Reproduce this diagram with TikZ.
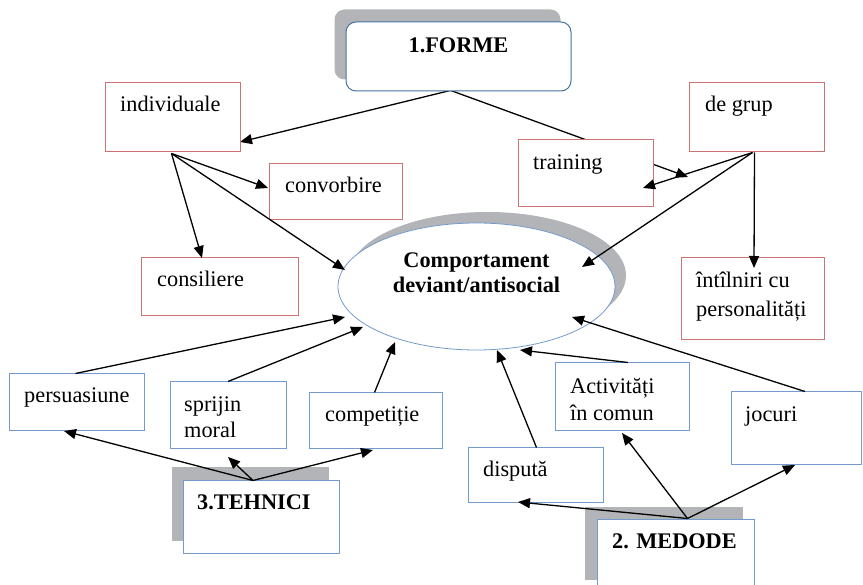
\documentclass[tikz,border=0pt]{standalone}
\usepackage{fontspec}
\setmainfont{Liberation Serif}
\usetikzlibrary{arrows.meta,calc,shapes.geometric}
\definecolor{redb}{RGB}{205,115,115}
\definecolor{blueb}{RGB}{115,155,205}
\definecolor{formeb}{RGB}{70,115,160}
\definecolor{shad}{RGB}{178,180,183}
\pgfdeclarelayer{bg}
\pgfsetlayers{bg,main}
\begin{document}
\begin{tikzpicture}[x=1pt,y=-1pt,
  sz/.style 2 args={minimum width=#1pt, minimum height=#2pt},
  rbox/.style={draw=redb, line width=1pt, fill=white, inner sep=0pt},
  bbox/.style={draw=blueb, line width=1pt, fill=white, inner sep=0pt},
  txt/.style={anchor=base west, inner sep=0pt, font=\fontsize{22.3}{27}\selectfont},
  btxt/.style={anchor=base west, inner sep=0pt, font=\fontsize{22.3}{27}\selectfont\bfseries},
  arr/.style={line width=1.3pt, -{Triangle[length=12pt,width=10pt]}}]
\useasboundingbox (0,0) rectangle (863,585);
\clip (0,0) rectangle (863,585);

% ---------- boxes ----------
\node[bbox, draw=formeb, rounded corners=10pt, sz={225}{69}] (forme) at (458.5,56.5) {};
\node[rbox, sz={135}{69}] (ind)   at (172.5,117.5) {};
\node[rbox, sz={133}{56}] (conv)  at (335.5,192) {};
\node[rbox, sz={157}{58}] (cons)  at (219.5,287) {};
\node[rbox, sz={135}{67}] (train) at (585.5,173.5) {};
\node[rbox, sz={135}{69}] (grup)  at (756.5,117.5) {};
\node[rbox, sz={143}{82}] (intal) at (752.5,299) {};
\node[draw=blueb, line width=0.8pt, fill=white, ellipse, inner sep=0pt, sz={277}{127}] (ell) at (476.5,286.5) {};
\node[bbox, sz={135}{57}] (pers)  at (76.5,402.5) {};
\node[bbox, sz={116}{67}] (spr)   at (228,415.5) {};
\node[bbox, sz={133}{56}] (comp)  at (375.5,421) {};
\node[bbox, sz={156}{72}] (teh)   at (261,517) {};
\node[bbox, sz={135}{54}] (disp)  at (535.5,475) {};
\node[bbox, sz={134}{68}] (act)   at (622,397) {};
\node[bbox, sz={130}{73}] (joc)   at (796,428.5) {};
\node[bbox, sz={157}{72}] (med)   at (675.5,555) {};

% ---------- shadows and hidden connectors ----------
\begin{pgfonlayer}{bg}
\fill[shad, rounded corners=10pt] ($(forme.south west)+(-11,-12)$) rectangle ($(forme.north east)+(-11,-12)$);
\fill[shad] ($(teh.south west)+(-11,-13)$) rectangle ($(teh.north east)+(-11,-13)$);
\fill[shad] ($(med.south west)+(-12,-12)$) rectangle ($(med.north east)+(-12,-12)$);
\fill[shad] ($(ell.center)+(11,-11)$) ellipse [x radius=138.5pt, y radius=63.5pt];
\coordinate (tFormeInd) at (240,142);
\coordinate (tFormeGrup) at (688,177);
\draw[arr] ($(forme.south)+(4,-4)$) -- (tFormeInd);
\draw[arr] ($(forme.south)+(-16,-4)$) -- (tFormeGrup);
\end{pgfonlayer}

% ---------- texts ----------
\node[btxt, anchor=base] (tforme) at (458.5,53) {1.FORME};
\node[txt] (tind)  at (120,112) {individuale};
\node[txt] (tconv) at (285,193) {convorbire};
\node[txt] (tcons) at (157,287) {consiliere};
\node[txt] (ttrain) at (533,170) {training};
\node[txt] (tgrup) at (705,112) {de grup};
\node[txt] (tint1) at (696,288) {întîlniri cu};
\node[txt] (tint2) at (696,317) {personalități};
\node[btxt, anchor=base] (tell1) at (476.5,268) {Comportament};
\node[btxt, anchor=base] (tell2) at (476.5,293) {deviant/antisocial};
\node[txt] (tpers) at (24,403) {persuasiune};
\node[txt] (tspr1) at (184,412) {sprijin};
\node[txt] (tspr2) at (184,438) {moral};
\node[txt] (tcomp) at (325,422) {competiție};
\node[btxt] (tteh) at (197,510) {3.TEHNICI};
\node[txt] (tdisp) at (483,477) {dispută};
\node[txt] (tact1) at (570,394) {Activități};
\node[txt] (tact2) at (570,421) {în comun};
\node[txt] (tjoc) at (745,422) {jocuri};
\node[btxt] (tmed) at (612,548) {2. MEDODE};

% ---------- arrow tips ----------
\coordinate (tIndEll) at (345,270);
\coordinate (tIndConv) at (268,188);
\coordinate (tIndCons) at (202,258);
\coordinate (tGrupTrain) at (643,188);
\coordinate (tGrupEll) at (582,267);
\coordinate (tGrupInt) at (754,268);
\coordinate (tPers) at (345,317);
\coordinate (tSpr) at (363,327);
\coordinate (tComp) at (395,342);
\coordinate (tTehPers) at (64,431);
\coordinate (tTehSpr) at (228,457);
\coordinate (tTehComp) at (373,450);
\coordinate (tMedDisp) at (518,502);
\coordinate (tMedAct) at (622,433);
\coordinate (tMedJoc) at (795,465);
\coordinate (tDisp) at (497,350);
\coordinate (tAct) at (520,350);
\coordinate (tJoc) at (572,317);

% ---------- connectors ----------
\draw[arr] ($(ind.south)+(-1,1)$) -- (tIndConv);
\draw[arr] ($(ind.south)+(-1,1)$) -- (tIndCons);
\draw[arr] ($(ind.south)+(-1,1)$) -- (tIndEll);
\draw[arr] ($(grup.south)+(-4,0)$) -- (tGrupTrain);
\draw[arr] ($(grup.south)+(-4,0)$) -- (tGrupEll);
\draw[arr] ($(grup.south)+(-2,0)$) -- (tGrupInt);
\draw[arr] ($(pers.north)+(-1,0)$) -- (tPers);
\draw[arr] (spr.north) -- (tSpr);
\draw[arr] ($(comp.north)+(-1,0)$) -- (tComp);
\draw[arr] ($(teh.north)+(-8,0)$) -- (tTehPers);
\draw[arr] ($(teh.north)+(-8,0)$) -- (tTehSpr);
\draw[arr] ($(teh.north)+(-8,0)$) -- (tTehComp);
\draw[arr] ($(med.north)+(12,0)$) -- (tMedDisp);
\draw[arr] ($(med.north)+(12,0)$) -- (tMedAct);
\draw[arr] ($(med.north)+(12,0)$) -- (tMedJoc);
\draw[arr] ($(disp.north)+(1,0)$) -- (tDisp);
\draw[arr] ($(act.north)+(6,0)$) -- (tAct);
\draw[arr] ($(joc.north)+(9,0)$) -- (tJoc);
\end{tikzpicture}
\end{document}
